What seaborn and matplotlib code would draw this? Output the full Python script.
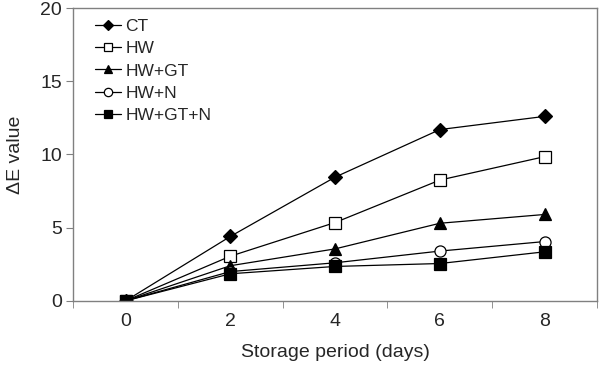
import matplotlib
matplotlib.use("Agg")
import matplotlib.pyplot as plt
import seaborn as sns
import pandas as pd

# storage days and delta E readings per treatment
days = [0, 2, 4, 6, 8]
ct = [0, 4.4, 8.45, 11.7, 12.6]
hw = [0, 3.05, 5.35, 8.25, 9.85]
hw_gt = [0, 2.4, 3.55, 5.3, 5.9]
hw_n = [0, 2.0, 2.6, 3.4, 4.05]
hw_gt_n = [0, 1.85, 2.35, 2.55, 3.35]

series_names = ["CT", "HW", "HW+GT", "HW+N", "HW+GT+N"]
series_values = [ct, hw, hw_gt, hw_n, hw_gt_n]

sns.set_style("white")
plt.rcParams["font.family"] = ["Liberation Sans", "DejaVu Sans"]

df = pd.DataFrame({
    "day": days * len(series_names),
    "value": [v for vals in series_values for v in vals],
    "treatment": [n for n in series_names for _ in days],
})

marker_styles = {
    "CT": dict(marker="D", markersize=7, markerfacecolor="black"),
    "HW": dict(marker="s", markersize=8, markerfacecolor="white"),
    "HW+GT": dict(marker="^", markersize=8.5, markerfacecolor="black"),
    "HW+N": dict(marker="o", markersize=8, markerfacecolor="white"),
    "HW+GT+N": dict(marker="s", markersize=8, markerfacecolor="black"),
}

fig = plt.figure(figsize=(6, 3.66), dpi=100)
ax = fig.add_axes([0.122, 0.178, 0.873, 0.8])

for name in series_names:
    sub = df[df["treatment"] == name]
    sns.lineplot(data=sub, x="day", y="value", ax=ax, color="black",
                 linewidth=0.9, markeredgecolor="black", markeredgewidth=0.9,
                 label=name, **marker_styles[name])

ax.set_xlim(-1, 9)
ax.set_ylim(0, 20)
ax.set_yticks([0, 5, 10, 15, 20])
ax.set_xticks(days)
ax.set_xticks([-1, 1, 3, 5, 7, 9], minor=True)
ax.tick_params(axis="x", which="major", length=0, labelsize=14, pad=9)
ax.tick_params(axis="x", which="minor", length=5, direction="out",
               color="#808080", bottom=True)
ax.tick_params(axis="y", length=5, direction="out", color="#808080",
               labelsize=14, left=True, pad=3)

for sp in ax.spines.values():
    sp.set_color("#808080")
    sp.set_linewidth(1)

ax.set_xlabel("Storage period (days)", fontsize=14, labelpad=10)
ax.set_ylabel("\u0394E value", fontsize=14, labelpad=12)

leg = ax.legend(loc="upper left", frameon=False, fontsize=12.5,
                handlelength=1.5, handletextpad=0.25, labelspacing=0.42,
                markerscale=0.75,
                bbox_to_anchor=(0.022, 1.0), borderaxespad=0.2)

fig.savefig("out.png", dpi=100)
